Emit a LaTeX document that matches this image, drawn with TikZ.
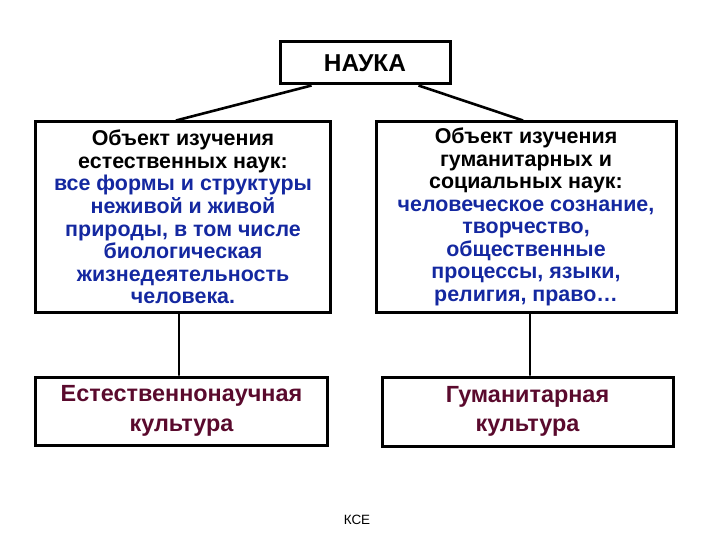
\documentclass[tikz,border=0pt]{standalone}
\usepackage{fontspec}
\setmainfont{Liberation Sans}
\usepackage{tikz}
\usetikzlibrary{positioning}
\definecolor{objblue}{RGB}{20,40,160}
\definecolor{culturered}{RGB}{90,10,45}

\begin{document}
\begin{tikzpicture}[x=1bp, y=-1bp,
    box/.style={draw, line width=3bp, align=center, inner sep=0pt},
    objtext/.style={font=\bfseries\fontsize{21.5}{22.6}\selectfont},
    culttext/.style={font=\bfseries\fontsize{23.5}{29.5}\selectfont, text=culturered}]
    \useasboundingbox (0,0) rectangle (720,540);

    \node[box, minimum width=170bp, minimum height=42bp, font=\bfseries\fontsize{24.5}{26}\selectfont] (nauka) at (365,63) {НАУКА};

    \node[box, objtext, minimum width=294bp, minimum height=190bp] (natobj) at (183,217)
        {Объект изучения\\ естественных наук:\\
        \textcolor{objblue}{все формы и структуры}\\ \textcolor{objblue}{неживой и живой}\\
        \textcolor{objblue}{природы, в том числе}\\ \textcolor{objblue}{биологическая}\\
        \textcolor{objblue}{жизнедеятельность}\\ \textcolor{objblue}{человека.}};
    \node[box, objtext, minimum width=300bp, minimum height=190bp] (humobj) at (526,217)
        {Объект изучения\\ гуманитарных и\\ социальных наук:\\
        \textcolor{objblue}{человеческое сознание,}\\ \textcolor{objblue}{творчество,}\\
        \textcolor{objblue}{общественные}\\ \textcolor{objblue}{процессы, языки,}\\
        \textcolor{objblue}{религия, право\dots}};

    \node[box, culttext, minimum width=291bp, minimum height=68bp] (natcult) at (181.5,411) {Естественнонаучная\\ культура};
    \node[box, culttext, minimum width=291bp, minimum height=69bp] (humcult) at (527.5,411.5) {Гуманитарная\\ культура};

    \draw[line width=2.6bp] ([xshift=33bp]nauka.south west) -- ([xshift=-7bp]natobj.north);
    \draw[line width=2.6bp] ([xshift=-33bp]nauka.south east) -- ([xshift=-3bp]humobj.north);
    \draw[line width=1.8bp] ([xshift=-4bp]natobj.south) -- ([xshift=-2.5bp]natcult.north);
    \draw[line width=1.8bp] ([xshift=4bp]humobj.south) -- ([xshift=2.5bp]humcult.north);

    \node[font=\fontsize{13.5}{15}\selectfont] (kse) at (357,520) {КСЕ};
\end{tikzpicture}
\end{document}
